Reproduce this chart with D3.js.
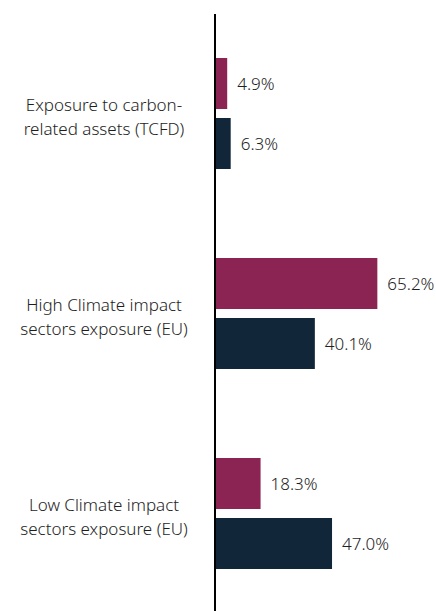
<!DOCTYPE html>
<html>
<head>
<meta charset="utf-8">
<script src="https://cdn.jsdelivr.net/npm/d3@7"></script>
<style>
  html, body { margin: 0; padding: 0; background: #fff; }
  svg { display: block; }
  text { font-family: "Noto Sans", sans-serif; font-weight: 300; fill: #1e1e1e; }
</style>
</head>
<body>
<svg id="chart" width="436" height="611"></svg>
<script>
// Exposure metrics, two series per category
const categories = [
  ["Exposure to carbon-", "related assets (TCFD)"],
  ["High Climate impact", "sectors exposure (EU)"],
  ["Low Climate impact", "sectors exposure (EU)"]
];
const seriesNames = ["Series A", "Series B"];
const seriesA = [4.9, 65.2, 18.3];
const seriesB = [6.3, 40.1, 47.0];
const colors = ["#8b2353", "#122639"];

const W = 436, H = 611;
const axisX = 215;
const svg = d3.select("#chart");

const keys = categories.map((c, i) => i);
const y = d3.scaleBand().domain(keys).range([14, 614]).paddingInner(0).paddingOuter(0);
const inner = d3.scaleBand().domain(seriesNames).range([44, 155]).paddingInner(0.15);
const x = d3.scaleLinear().domain([0, 100]).range([axisX, axisX + 249]);

const rows = keys.map(i => [
  { s: seriesNames[0], v: seriesA[i], c: colors[0] },
  { s: seriesNames[1], v: seriesB[i], c: colors[1] }
]);

const g = svg.selectAll("g.grp").data(rows).join("g")
  .attr("class", "grp")
  .attr("transform", (d, i) => `translate(0,${y(i)})`);

g.selectAll("rect").data(d => d).join("rect")
  .attr("x", x(0))
  .attr("y", d => inner(d.s))
  .attr("width", d => x(d.v) - x(0))
  .attr("height", inner.bandwidth())
  .attr("fill", d => d.c);

g.selectAll("text.val").data(d => d).join("text")
  .attr("class", "val")
  .attr("x", d => x(d.v) + 10)
  .attr("y", d => inner(d.s) + inner.bandwidth() / 2)
  .attr("dy", "0.38em")
  .attr("font-size", 17)
  .text(d => d.v.toFixed(1) + "%");

// Category labels, two lines, centred left of the axis
const lab = svg.selectAll("text.cat").data(categories).join("text")
  .attr("class", "cat")
  .attr("text-anchor", "middle")
  .attr("font-size", 17)
  .attr("transform", (d, i) => `translate(104,${y(i) + y.bandwidth() / 2})`);
lab.selectAll("tspan").data(d => d).join("tspan")
  .attr("x", 0)
  .attr("y", (d, j) => -3 + j * 23.5)
  .text(d => d);

// Vertical baseline
svg.append("line")
  .attr("x1", axisX).attr("x2", axisX)
  .attr("y1", 14).attr("y2", H)
  .attr("stroke", "#000").attr("stroke-width", 2);
</script>
</body>
</html>
